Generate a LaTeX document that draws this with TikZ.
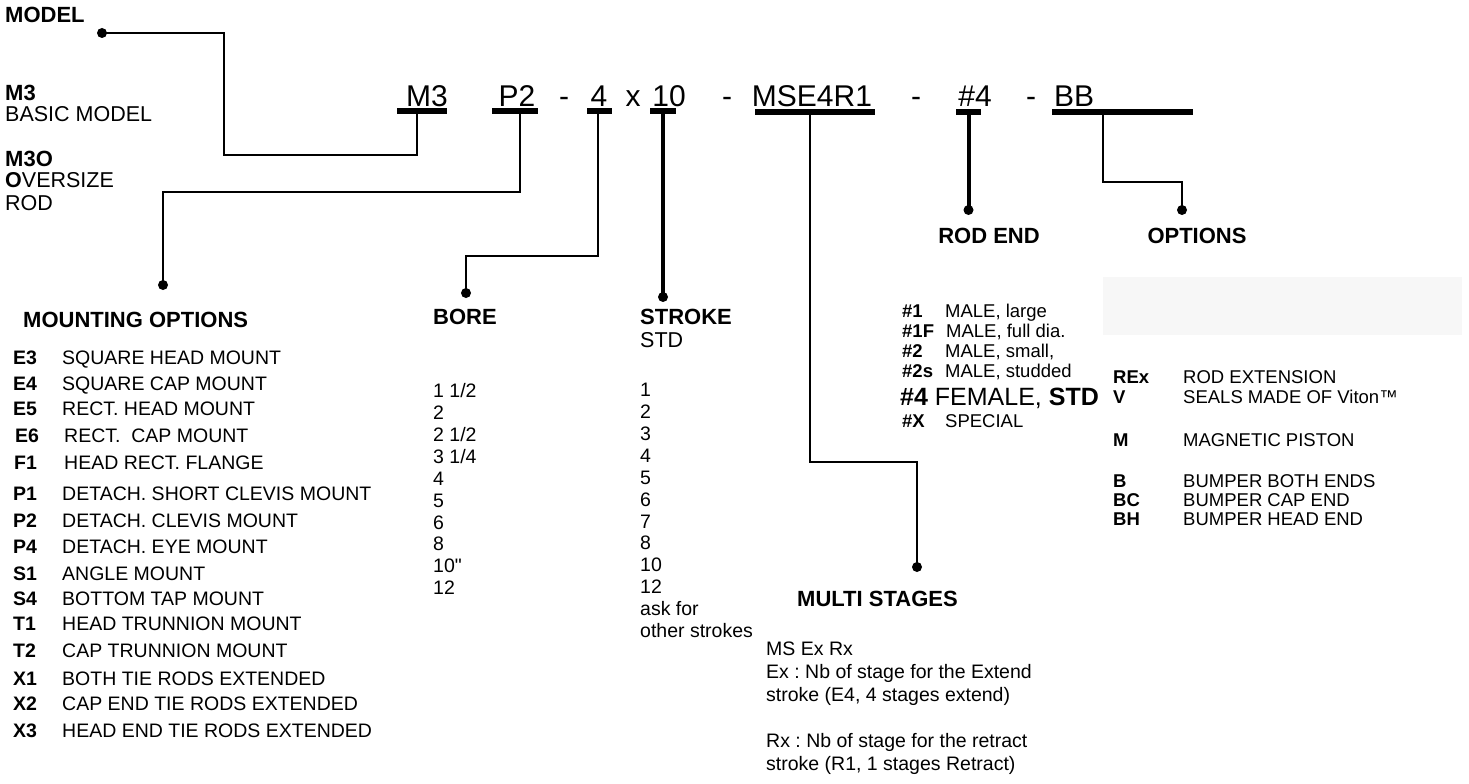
\documentclass[tikz,border=0pt]{standalone}
\usepackage{fontspec}
\setmainfont{Liberation Sans}
\frenchspacing
\newcommand{\straightdq}{\XeTeXglyph\XeTeXcharglyph"22\relax}
\begin{document}
\begin{tikzpicture}[x=1pt,y=-1pt,
  lbl/.style={anchor=base west,inner sep=0pt,font=\fontsize{19.5}{22}\selectfont},
  codet/.style={anchor=base west,inner sep=0pt,font=\bfseries\fontsize{19.5}{22}\selectfont},
  ttl/.style={anchor=base west,inner sep=0pt,font=\bfseries\fontsize{22}{24}\selectfont},
  ttlc/.style={anchor=base,inner sep=0pt,font=\bfseries\fontsize{22}{24}\selectfont},
  big/.style={anchor=base west,inner sep=0pt,font=\fontsize{21.5}{24}\selectfont},
  sm/.style={anchor=base west,inner sep=0pt,font=\fontsize{18.5}{20}\selectfont},
  smb/.style={anchor=base west,inner sep=0pt,font=\bfseries\fontsize{18.5}{20}\selectfont},
  hdr/.style={anchor=base,inner sep=0pt,font=\fontsize{30}{33}\selectfont},
  bar/.style={fill=black,inner sep=0pt,minimum height=6pt},
  dotn/.style={circle,fill=black,inner sep=0pt,minimum size=10pt},
  conn/.style={line width=2pt},
  connm/.style={line width=2.6pt},
  connb/.style={line width=4pt},
]
\useasboundingbox (0,0) rectangle (1469,784);
\fill[black!3] (1103,277) rectangle (1462,335);

% top-left model block
\node[ttl] (tModel) at (5,23) {MODEL};
\node[ttl] (tM3) at (5,100.7) {M3};
\node[big] (tBasic) at (5,121.7) {BASIC MODEL};
\node[ttl] (tM3O) at (5,166.7) {M3O};
\node[big] (tOver) at (5,187.7) {\textbf{O}VERSIZE};
\node[big] (tRod) at (5,210.7) {ROD};

% header code
\node[hdr] (hM3) at (427,106) {M3};
\node[hdr] (hP2) at (517,106) {P2};
\node[hdr] (hd1) at (564,106) {-};
\node[hdr] (h4) at (599,106) {4};
\node[hdr] (hx) at (633,106) {x};
\node[hdr] (h10) at (669,106) {10};
\node[hdr] (hd2) at (727,106) {-};
\node[hdr] (hMS) at (812,106) {MSE4R1};
\node[hdr] (hd3) at (916,106) {-};
\node[hdr] (hR) at (975,106) {\#4};
\node[hdr] (hd4) at (1031,106) {-};
\node[hdr] (hBB) at (1074,106) {BB};

% underline bars
\node[bar,minimum width=50pt] (bM3) at (422,111) {};
\node[bar,minimum width=46pt] (bP2) at (515,111) {};
\node[bar,minimum width=25pt] (b4) at (599.5,111) {};
\node[bar,minimum width=26pt] (b10) at (663,111) {};
\node[bar,minimum width=120pt] (bMS) at (815,111.5) {};
\node[bar,minimum width=25pt] (bR) at (968.5,112) {};
\node[bar,minimum width=141pt] (bBB) at (1122.5,112) {};

% dots
\node[dotn] (dModel) at (102,33) {};
\node[dotn] (dMount) at (163,285) {};
\node[dotn] (dBore) at (466,293) {};
\node[dotn] (dStroke) at (663,297) {};
\node[dotn] (dMulti) at (917,567) {};
\node[dotn] (dRod) at (968.5,210) {};
\node[dotn] (dOpt) at (1182,210) {};

% connectors
\draw[conn] ([xshift=-5pt]bM3.south) |- (224,155) |- (dModel.center);
\draw[conn] ([xshift=5pt]bP2.south) |- (163,192) -- (dMount.center);
\draw[connm] ([xshift=-1.5pt]b4.south) |- (466,256) -- (dBore.center);
\draw[connb] (b10.south) -- (dStroke.center);
\draw[conn] ([xshift=-5pt]bMS.south) |- (917,462) -- (dMulti.center);
\draw[connb] (bR.south) -- (dRod.center);
\draw[conn] ([xshift=-19.5pt]bBB.south) |- (1182,182) -- (dOpt.center);

% group titles
\node[ttl] (tMount) at (23,327.7) {MOUNTING OPTIONS};
\node[ttl] (tBore) at (433,324.7) {BORE};
\node[ttl] (tStroke) at (640,324.7) {STROKE};
\node[big] (tStd) at (640,347.7) {STD};
\node[ttlc] (tRodEnd) at (989,243) {ROD END};
\node[ttlc] (tOptions) at (1197,243) {OPTIONS};
\node[ttl] (tMulti) at (797,606.7) {MULTI STAGES};

% mounting options
\foreach \c/\d/\y/\cx/\dx [count=\i] in {
  E3/SQUARE HEAD MOUNT/357/13/62,
  E4/SQUARE CAP MOUNT/383/13/62,
  E5/RECT. HEAD MOUNT/408/13/62,
  E6/RECT.\ \ CAP MOUNT/435/15/64,
  F1/HEAD RECT. FLANGE/462/14/64,
  P1/DETACH. SHORT CLEVIS MOUNT/493/13/62,
  P2/DETACH. CLEVIS MOUNT/520/13/62,
  P4/DETACH. EYE MOUNT/546/13/62,
  S1/ANGLE MOUNT/573/13/62,
  S4/BOTTOM TAP MOUNT/598/13/62,
  T1/HEAD TRUNNION MOUNT/623/13/62,
  T2/CAP TRUNNION MOUNT/650/13/62,
  X1/BOTH TIE RODS EXTENDED/678/13/62,
  X2/CAP END TIE RODS EXTENDED/703/13/62,
  X3/HEAD END TIE RODS EXTENDED/730/13/62}
{
  \node[codet] (mc\i) at (\cx,{\y+7}) {\c};
  \node[lbl] (md\i) at (\dx,{\y+7}) {\d};
}

% bore values
\foreach \v/\y [count=\i] in {{1 1/2}/390, 2/412, {2 1/2}/434, {3 1/4}/456, 4/478, 5/500, 6/522, 8/543, {10\straightdq}/565, 12/587}
{
  \node[lbl] (bv\i) at (433,{\y+7}) {\v};
}

% stroke values
\foreach \v/\y [count=\i] in {1/389, 2/411.5, 3/433, 4/455, 5/477, 6/499, 7/521, 8/542.5, 10/564, 12/586.5, ask for/608, other strokes/630}
{
  \node[lbl] (sv\i) at (640,{\y+7}) {\v};
}

% rod end list
\node[smb] (rc1) at (902,317.5) {\#1};
\node[sm] (rd1) at (945,317.5) {MALE, large};
\node[smb] (rc2) at (902,337.5) {\#1F};
\node[sm] (rd2) at (946,337.5) {MALE, full dia.};
\node[smb] (rc3) at (902,357.5) {\#2};
\node[sm] (rd3) at (945,357.5) {MALE, small,};
\node[smb] (rc4) at (902,377.5) {\#2s};
\node[sm] (rd4) at (945,377.5) {MALE, studded};
\node[anchor=base west,inner sep=0pt,font=\fontsize{25}{28}\selectfont] (rd5) at (900,405) {\textbf{\#4} FEMALE, \textbf{STD}};
\node[smb] (rc6) at (902,427.5) {\#X};
\node[sm] (rd6) at (945,427.5) {SPECIAL};

% options list
\foreach \c/\d/\y [count=\i] in {REx/ROD EXTENSION/377, V/SEALS MADE OF Viton™/397, M/MAGNETIC PISTON/440, B/BUMPER BOTH ENDS/481, BC/BUMPER CAP END/500, BH/BUMPER HEAD END/519}
{
  \node[smb] (oc\i) at (1113,{\y+6.6}) {\c};
  \node[sm] (od\i) at (1183,{\y+6.6}) {\d};
}

% multi stages text
\foreach \t/\y [count=\i] in {MS Ex Rx/648, Ex : Nb of stage for the Extend/671, {stroke (E4, 4 stages extend)}/694, Rx : Nb of stage for the retract/740, {stroke (R1, 1 stages Retract)}/763}
{
  \node[lbl] (ms\i) at (766,{\y+7}) {\t};
}
\end{tikzpicture}
\end{document}
